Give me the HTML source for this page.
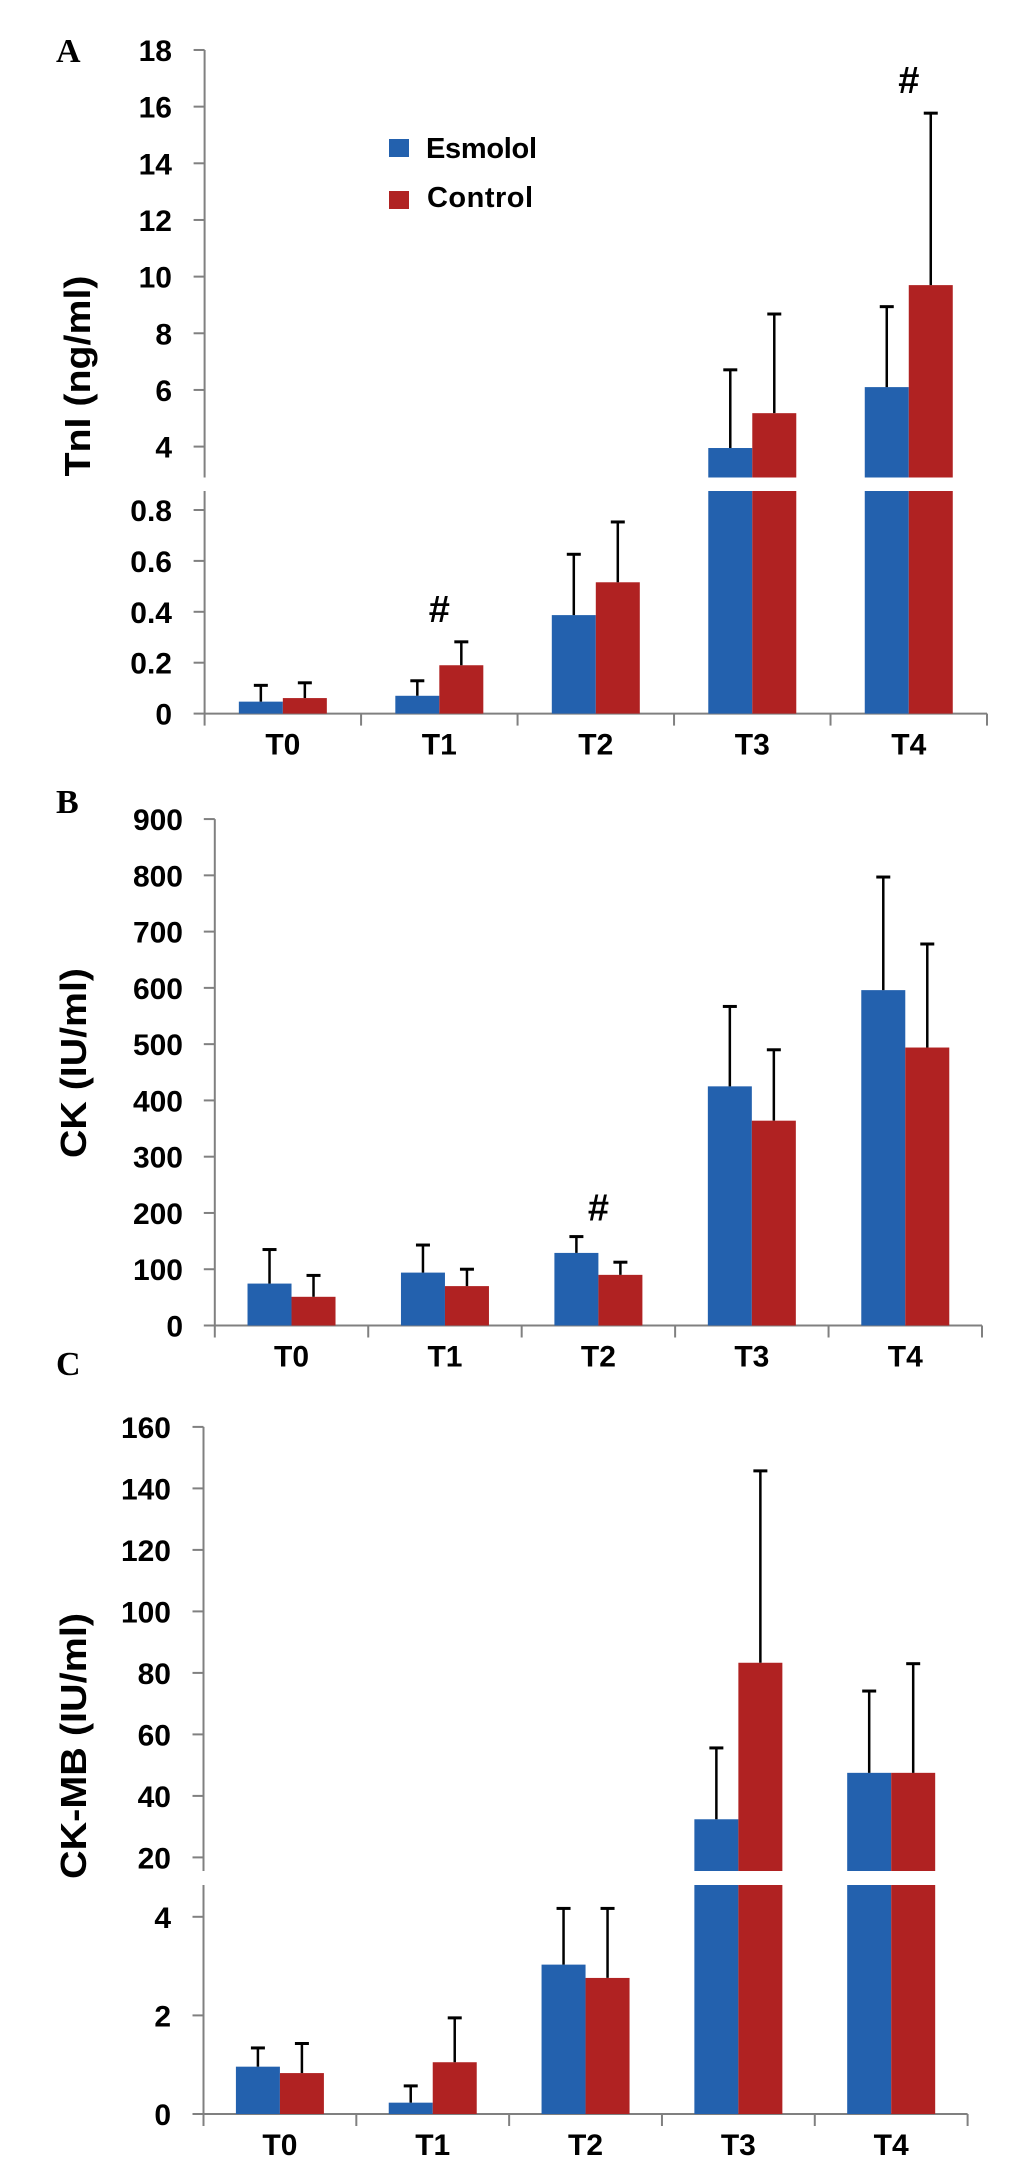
<!DOCTYPE html>
<html><head><meta charset="utf-8">
<style>
html,body{margin:0;padding:0;background:#fff;}
svg{display:block;}
text{font-family:"Liberation Sans",Arial,sans-serif;font-weight:bold;fill:#000;}
.panel{font-family:"Liberation Serif","Times New Roman",serif;}
</style></head>
<body>
<svg id="fig" width="1033" height="2167" viewBox="0 0 1033 2167" xmlns="http://www.w3.org/2000/svg"></svg>
<script>
const categories = ["T0","T1","T2","T3","T4"];
// Panel A: TnI (ng/ml)
const tniEsmolol = [0.047, 0.07, 0.387, 3.95, 6.1];
const tniEsmololErr = [0.111, 0.129, 0.626, 6.71, 8.94];
const tniControl = [0.061, 0.19, 0.516, 5.18, 9.7];
const tniControlErr = [0.121, 0.282, 0.753, 8.68, 15.77];
const tniUpperTicks = [4, 6, 8, 10, 12, 14, 16, 18];
const tniLowerTicks = [0, 0.2, 0.4, 0.6, 0.8];
const tniSig = [1, 4];
// Panel B: CK (IU/ml)
const ckEsmolol = [74.5, 94, 129, 425, 596];
const ckEsmololErr = [135, 143, 158, 567, 797];
const ckControl = [51, 70, 90, 364, 494];
const ckControlErr = [89, 100, 112.5, 490, 678];
const ckTicks = [0, 100, 200, 300, 400, 500, 600, 700, 800, 900];
const ckSig = [2];
// Panel C: CK-MB (IU/ml)
const ckmbEsmolol = [0.96, 0.23, 3.03, 32.4, 47.5];
const ckmbEsmololErr = [1.34, 0.57, 4.17, 55.6, 74.1];
const ckmbControl = [0.83, 1.05, 2.76, 83.3, 47.5];
const ckmbControlErr = [1.43, 1.95, 4.17, 145.7, 83.0];
const ckmbUpperTicks = [20, 40, 60, 80, 100, 120, 140, 160];
const ckmbLowerTicks = [0, 2, 4];
const ckmbSig = [];

const NS = "http://www.w3.org/2000/svg";
const svg = document.getElementById("fig");
const BLUE = "#2361ae", RED = "#b02222", AXIS = "#808080";

function mk(tag, attrs, parent) {
  const e = document.createElementNS(NS, tag);
  for (const k in attrs) e.setAttribute(k, attrs[k]);
  (parent || svg).appendChild(e);
  return e;
}
function txt(s, x, y, size, anchor, parent) {
  const t = mk("text", {x: x, y: y, "font-size": size, "text-anchor": anchor || "middle"}, parent);
  t.textContent = s;
  return t;
}

function drawPanel(cfg) {
  const g = mk("g", {});
  
  
  const bw = 44;
  const catW = (cfg.x1 - cfg.x0) / categories.length;
  const cx = i => cfg.x0 + catW * (i + 0.5);
  const yLow = v => cfg.lowZeroY - (v - 0) * cfg.lowPx;
  const yUp = v => cfg.upBaseY - (v - cfg.upBase) * cfg.upPx;
  const isBig = v => cfg.broken && v > cfg.lowMax;
  const yAny = v => isBig(v) ? yUp(v) : yLow(v);

  const L = mk("text", {x: 56, y: cfg.letterY, "font-size": 34, "class": "panel", "text-anchor": "start"}, g);
  L.textContent = cfg.letter;
  
  

  const yt = mk("text", {x: 0, y: 0, "font-size": 36, "text-anchor": "middle",
    transform: "translate(" + cfg.titleX + "," + cfg.titleY + ") rotate(-90)",
    textLength: cfg.titleLen, lengthAdjust: "spacingAndGlyphs"}, g);
  yt.textContent = cfg.title;
  
  

  const axG = mk("g", {stroke: AXIS, "stroke-width": 2}, g);
  
  
  if (cfg.broken) {
    mk("line", {x1: cfg.x0, x2: cfg.x0, y1: yUp(cfg.upTicks[cfg.upTicks.length - 1]), y2: cfg.upEndY}, axG);
    mk("line", {x1: cfg.x0, x2: cfg.x0, y1: cfg.lowTopY, y2: cfg.lowZeroY}, axG);
  } else {
    mk("line", {x1: cfg.x0, x2: cfg.x0, y1: yLow(cfg.lowTicks[cfg.lowTicks.length - 1]), y2: cfg.lowZeroY}, axG);
  }
  const tickG = mk("g", {}, g);
  
  
  const addTick = (v, y) => {
    mk("line", {x1: cfg.x0 - 11, x2: cfg.x0, y1: y, y2: y, stroke: AXIS, "stroke-width": 2}, tickG);
    txt(String(v), cfg.labelX, y + 11, 30, "end", tickG);
  };
  cfg.lowTicks.forEach(v => addTick(v, yLow(v)));
  if (cfg.broken) cfg.upTicks.forEach(v => addTick(v, yUp(v)));

  const xg = mk("g", {}, g);
  
  
  mk("line", {x1: cfg.x0, x2: cfg.x1, y1: cfg.lowZeroY, y2: cfg.lowZeroY, stroke: AXIS, "stroke-width": 2}, xg);
  for (let i = 0; i <= categories.length; i++) {
    const x = cfg.x0 + catW * i;
    mk("line", {x1: x, x2: x, y1: cfg.lowZeroY, y2: cfg.lowZeroY + 12, stroke: AXIS, "stroke-width": 2}, xg);
  }
  categories.forEach((c, i) => {
    const t = txt(c, cx(i), cfg.lowZeroY + 41, 30, "middle", xg);
    
    
  });

  const series = [[cfg.esm, cfg.esmErr, BLUE, -bw, "esmolol"], [cfg.ctl, cfg.ctlErr, RED, 0, "control"]];
  series.forEach(s => {
    const [vals, errs, col, off, nm] = s;
    vals.forEach((v, i) => {
      const x = cx(i) + off;
      if (isBig(v)) {
        const b1 = mk("rect", {x: x, y: cfg.lowTopY, width: bw, height: cfg.lowZeroY - cfg.lowTopY, fill: col}, g);
        
        
        const b2 = mk("rect", {x: x, y: yUp(v), width: bw, height: cfg.upEndY - yUp(v), fill: col}, g);
        
        
      } else {
        const b = mk("rect", {x: x, y: yLow(v), width: bw, height: cfg.lowZeroY - yLow(v), fill: col}, g);
        
        
      }
      const ex = x + bw / 2;
      const eg = mk("g", {stroke: "#000", "stroke-width": 2.5}, g);
      
      
      mk("line", {x1: ex, x2: ex, y1: yAny(v), y2: yAny(errs[i])}, eg);
      mk("line", {x1: ex - 7, x2: ex + 7, y1: yAny(errs[i]), y2: yAny(errs[i]), "stroke-width": 3}, eg);
    });
  });

  cfg.sig.forEach(i => {
    const top = Math.min(yAny(cfg.esmErr[i]), yAny(cfg.ctlErr[i]));
    const t = txt("#", cx(i) + cfg.sigDx, top - cfg.sigGap, 38, "middle", g);
    
    
  });
}

drawPanel({name: "panel-a-tni", letter: "A", letterY: 62, title: "TnI (ng/ml)", titleX: 90, titleY: 376, titleLen: 201,
  x0: 204.6, x1: 987, labelX: 172, broken: true,
  lowZeroY: 713.6, lowPx: 254.5, lowMax: 0.9, lowTopY: 491, upEndY: 477.5,
  upBase: 4, upBaseY: 446.6, upPx: 28.33, upTicks: tniUpperTicks, lowTicks: tniLowerTicks,
  esm: tniEsmolol, esmErr: tniEsmololErr, ctl: tniControl, ctlErr: tniControlErr,
  sig: tniSig, sigDx: 0, sigGap: 20});

drawPanel({name: "panel-b-ck", letter: "B", letterY: 813, title: "CK (IU/ml)", titleX: 86, titleY: 1063, titleLen: 190,
  x0: 214.8, x1: 982, labelX: 183, broken: false,
  lowZeroY: 1325.5, lowPx: 0.5627, lowMax: 1e9, lowTopY: 819.5, upEndY: 0,
  upBase: 0, upBaseY: 0, upPx: 0, upTicks: [], lowTicks: ckTicks,
  esm: ckEsmolol, esmErr: ckEsmololErr, ctl: ckControl, ctlErr: ckControlErr,
  sig: ckSig, sigDx: 0, sigGap: 16});

drawPanel({name: "panel-c-ckmb", letter: "C", letterY: 1375, title: "CK-MB (IU/ml)", titleX: 86, titleY: 1746, titleLen: 266,
  x0: 203.5, x1: 967.6, labelX: 171, broken: true,
  lowZeroY: 2114, lowPx: 49.3, lowMax: 5, lowTopY: 1885, upEndY: 1871,
  upBase: 20, upBaseY: 1857.4, upPx: 3.075, upTicks: ckmbUpperTicks, lowTicks: ckmbLowerTicks,
  esm: ckmbEsmolol, esmErr: ckmbEsmololErr, ctl: ckmbControl, ctlErr: ckmbControlErr,
  sig: ckmbSig, sigDx: 0, sigGap: 18});

const lg = mk("g", {});


const le1 = mk("g", {}, lg);


mk("rect", {x: 389, y: 139, width: 20, height: 18, fill: BLUE}, le1);
txt("Esmolol", 426, 158, 29, "start", le1).setAttribute("textLength", 111);
const le2 = mk("g", {}, lg);


mk("rect", {x: 389, y: 191, width: 20, height: 18, fill: RED}, le2);
txt("Control", 427, 207, 29, "start", le2).setAttribute("textLength", 106);
</script>
</body></html>
